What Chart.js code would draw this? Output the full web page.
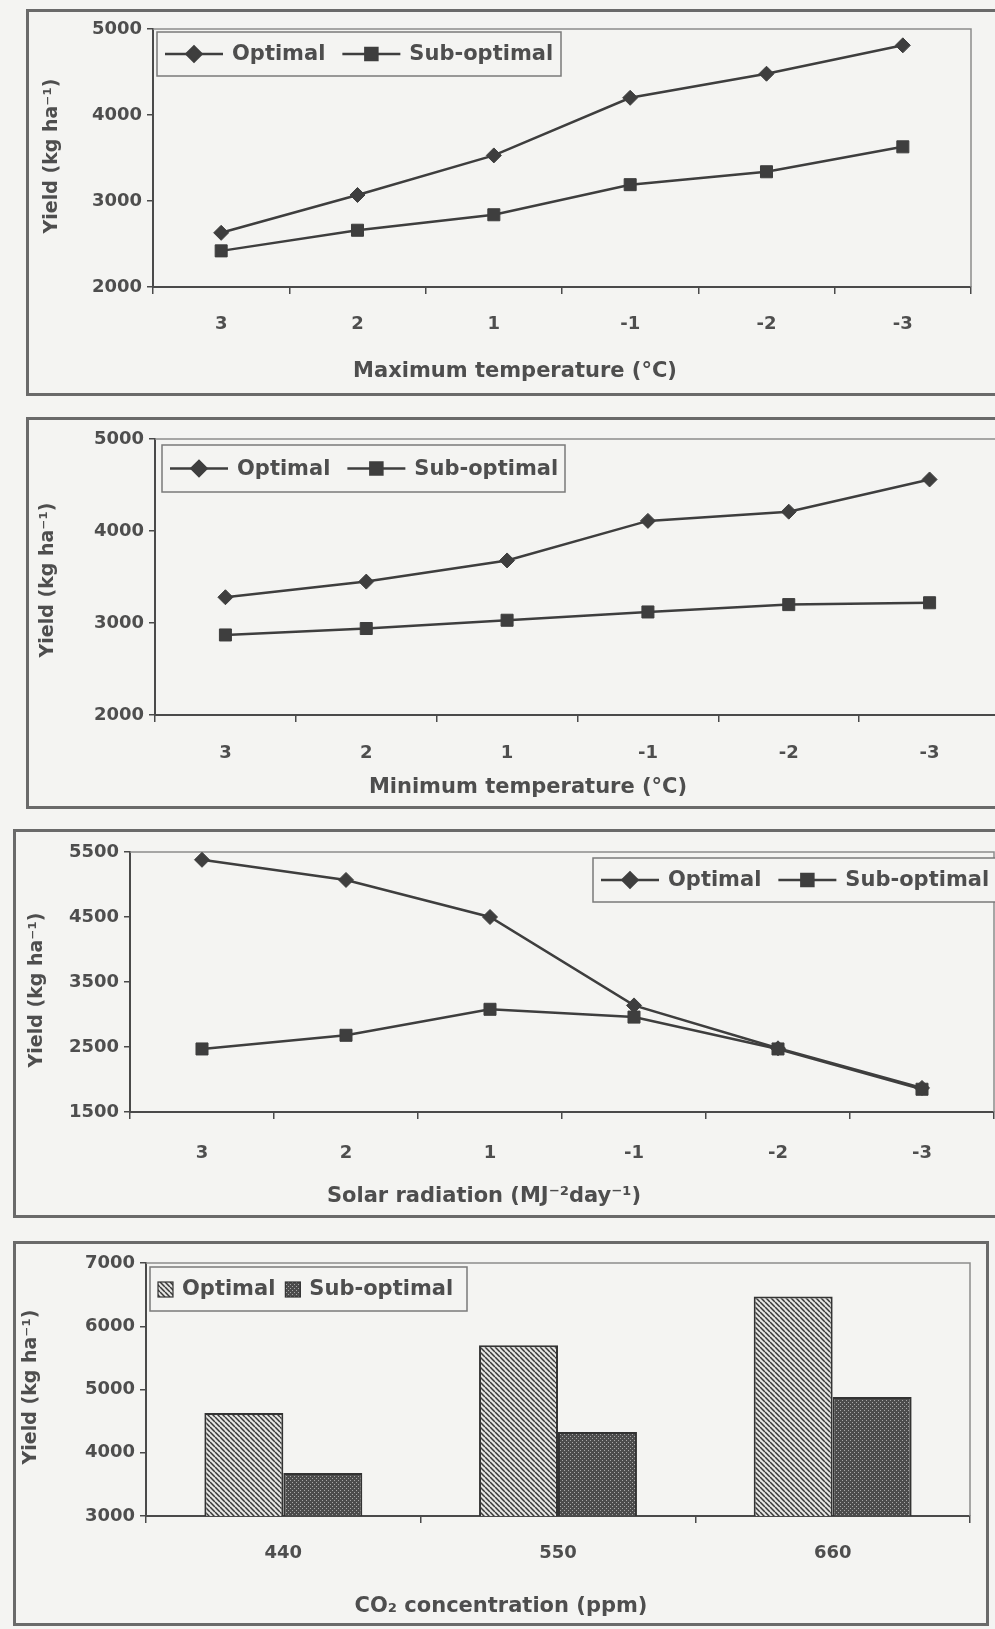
<!DOCTYPE html>
<html>
<head>
<meta charset="utf-8">
<script src="https://cdn.jsdelivr.net/npm/chart.js@4.4.1/dist/chart.umd.min.js"></script>
<style>
  html, body { margin: 0; padding: 0; }
  body { width: 995px; height: 1629px; overflow: hidden; position: relative; background: #f4f4f2; }
  .frame { position: absolute; border: 3px solid #6a6a6a; box-sizing: border-box; }
  canvas { position: absolute; left: 0; }
</style>
</head>
<body>
<div class="frame" style="left:26px;top:9px;width:1000px;height:387px"></div>
<div class="frame" style="left:26px;top:417px;width:1000px;height:392px"></div>
<div class="frame" style="left:13px;top:829px;width:1000px;height:389px"></div>
<div class="frame" style="left:13px;top:1241px;width:976px;height:385px"></div>

<canvas id="c1" width="1010" height="388" style="top:8px"></canvas>
<canvas id="c2" width="1010" height="392" style="top:418px"></canvas>
<canvas id="c3" width="1010" height="390" style="top:830px"></canvas>
<canvas id="c4" width="1010" height="387" style="top:1242px"></canvas>

<script>
// data
const tempLabels = ['3', '2', '1', '-1', '-2', '-3']
const maxTempOptimal = [2630, 3070, 3530, 4200, 4480, 4810]
const maxTempSubOptimal = [2420, 2660, 2840, 3190, 3340, 3630]
const minTempOptimal = [3280, 3450, 3680, 4110, 4210, 4560]
const minTempSubOptimal = [2870, 2940, 3030, 3120, 3200, 3220]
const solarOptimal = [5380, 5070, 4500, 3140, 2480, 1870]
const solarSubOptimal = [2470, 2680, 3080, 2960, 2470, 1850]
const co2Labels = ['440', '550', '660']
const co2Optimal = [4630, 5700, 6470]
const co2SubOptimal = [3680, 4330, 4880]

const maxTempTicks = [2000, 3000, 4000, 5000]
const minTempTicks = [2000, 3000, 4000, 5000]
const solarTicks = [1500, 2500, 3500, 4500, 5500]
const co2Ticks = [3000, 4000, 5000, 6000, 7000]

const textColor = '#4e4e4e'
const axisColor = '#4a4a4a'
const lineColor = '#3e3e3e'
const fontFamily = '"DejaVu Sans", sans-serif'


function makeHatch(ctx) {
    let c = document.createElement('canvas')
    c.width = 5; c.height = 5
    let g = c.getContext('2d')
    g.fillStyle = '#e4e4e2'
    g.fillRect(0, 0, 5, 5)
    g.strokeStyle = '#383838'
    g.lineWidth = 1.5
    g.beginPath()
    for (let o of [-5, 0, 5]) { g.moveTo(o, 0); g.lineTo(o + 5, 5) }
    g.stroke()
    return ctx.createPattern(c, 'repeat')
}

function makeDots(ctx) {
    let c = document.createElement('canvas')
    c.width = 4; c.height = 4
    let g = c.getContext('2d')
    g.fillStyle = '#4c4c4c'
    g.fillRect(0, 0, 4, 4)
    g.fillStyle = '#a8a8a8'
    g.fillRect(0, 0, 1, 1)
    g.fillRect(2, 2, 1, 1)
    return ctx.createPattern(c, 'repeat')
}


// plot frame, axis titles and boxed legend (Excel look)
const decor = {
    id: 'decor',
    beforeDatasetsDraw(chart, args, opts) {
        let { ctx, chartArea: a } = chart
        ctx.save()
        ctx.strokeStyle = '#8c8c8c'
        ctx.lineWidth = 1.5
        ctx.beginPath()
        ctx.moveTo(a.left, a.top)
        ctx.lineTo(a.right, a.top)
        ctx.lineTo(a.right, a.bottom)
        ctx.stroke()
        ctx.restore()
    },
    afterDraw(chart, args, opts) {
        let ctx = chart.ctx
        let t = opts.top
        ctx.save()
        ctx.fillStyle = textColor
        ctx.textAlign = 'center'
        ctx.textBaseline = 'middle'

        // x title
        ctx.font = 'bold 21px ' + fontFamily
        ctx.fillText(opts.xTitle, opts.xTitleAt[0], opts.xTitleAt[1] - t)

        // y title
        ctx.save()
        ctx.translate(opts.yTitleAt[0], opts.yTitleAt[1] - t)
        ctx.rotate(-Math.PI / 2)
        ctx.font = 'bold 19px ' + fontFamily
        ctx.fillText(opts.yTitle, 0, 0)
        ctx.restore()

        // legend
        let L = opts.legend
        let ly = L.y - t
        ctx.fillStyle = '#f4f4f2'
        ctx.fillRect(L.x, ly, L.w, L.h)
        ctx.strokeStyle = '#7a7a7a'
        ctx.lineWidth = 1.5
        ctx.strokeRect(L.x, ly, L.w, L.h)
        let cy = ly + L.h / 2
        let x = L.x + 8
        ctx.font = 'bold 21px ' + fontFamily
        ctx.textAlign = 'left'
        chart.data.datasets.forEach(ds => {
            if (chart.config.type === 'line') {
                ctx.strokeStyle = lineColor
                ctx.lineWidth = 2.5
                ctx.beginPath()
                ctx.moveTo(x, cy)
                ctx.lineTo(x + 58, cy)
                ctx.stroke()
                ctx.fillStyle = lineColor
                ctx.strokeStyle = lineColor
                Chart.helpers.drawPoint(ctx, { pointStyle: ds.pointStyle, radius: ds.pointRadius, rotation: 0, borderWidth: 1 }, x + 29, cy)
                x += 58 + 9
            } else {
                ctx.fillStyle = ds.backgroundColor
                ctx.fillRect(x, cy - 7, 15, 15)
                ctx.strokeStyle = '#333'
                ctx.lineWidth = 1.2
                ctx.strokeRect(x, cy - 7, 15, 15)
                x += 15 + 9
            }
            ctx.fillStyle = textColor
            ctx.fillText(ds.label, x, cy + 1)
            x += ctx.measureText(ds.label).width + (chart.config.type === 'line' ? 17 : 10)
        })
        ctx.restore()
    }
}


function makeChart(p) {
    let canvas = document.getElementById(p.id)
    let top = parseInt(canvas.style.top)
    let W = canvas.width, H = canvas.height
    let a = p.area   // left, top, right, bottom in page pixels

    return new Chart(canvas, {
        type: p.type,
        data: { labels: p.labels, datasets: p.datasets },
        options: {
            responsive: false,
            animation: false,
            layout: { padding: { left: 0, top: a[1] - top, right: W - a[2], bottom: 0 } },
            plugins: {
                legend: { display: false },
                tooltip: { enabled: false },
                decor: {
                    top: top,
                    xTitle: p.xTitle, xTitleAt: p.xTitleAt,
                    yTitle: 'Yield (kg ha\u207B\u00B9)', yTitleAt: p.yTitleAt,
                    legend: p.legend
                }
            },
            scales: {
                x: {
                    offset: true,
                    grid: { offset: true, drawOnChartArea: false, tickLength: 7, color: axisColor, lineWidth: 1.5 },
                    border: { color: axisColor, width: 2 },
                    ticks: { color: textColor, font: { family: fontFamily, weight: 'bold', size: 18 }, padding: p.xPad, maxRotation: 0 },
                    afterFit: s => { s.height = top + H - a[3] }
                },
                y: {
                    min: p.ticks[0],
                    max: p.ticks[p.ticks.length - 1],
                    afterBuildTicks: s => { s.ticks = p.ticks.map(v => ({ value: v })) },
                    grid: { drawOnChartArea: false, tickLength: 6, color: axisColor, lineWidth: 1.5 },
                    border: { color: axisColor, width: 2 },
                    ticks: {
                        color: textColor,
                        font: { family: fontFamily, weight: 'bold', size: 18 },
                        padding: 5,
                        callback: v => String(v)
                    },
                    afterFit: s => { s.width = a[0] }
                }
            }
        },
        plugins: [decor]
    })
}


function lineSets(optimal, subOptimal) {
    return [{
        label: 'Optimal',
        data: optimal,
        borderColor: lineColor,
        borderWidth: 2.5,
        pointStyle: 'rectRot',
        pointRadius: 7.5,
        pointBackgroundColor: lineColor,
        pointBorderColor: lineColor,
        pointBorderWidth: 1
    },
    {
        label: 'Sub-optimal',
        data: subOptimal,
        borderColor: lineColor,
        borderWidth: 2.5,
        pointStyle: 'rect',
        pointRadius: 8.5,
        pointBackgroundColor: lineColor,
        pointBorderColor: lineColor,
        pointBorderWidth: 1
    }]
}


makeChart({
    id: 'c1', type: 'line', labels: tempLabels,
    datasets: lineSets(maxTempOptimal, maxTempSubOptimal),
    ticks: maxTempTicks,
    area: [153, 29, 971, 287], xPad: 20,
    xTitle: 'Maximum temperature (°C)', xTitleAt: [515, 372], yTitleAt: [52, 156],
    legend: { x: 157, y: 32, w: 404, h: 44 }
})

makeChart({
    id: 'c2', type: 'line', labels: tempLabels,
    datasets: lineSets(minTempOptimal, minTempSubOptimal),
    ticks: minTempTicks,
    area: [155, 439, 1000, 715], xPad: 21,
    xTitle: 'Minimum temperature (°C)', xTitleAt: [528, 788], yTitleAt: [48, 580],
    legend: { x: 162, y: 445, w: 403, h: 47 }
})

makeChart({
    id: 'c3', type: 'line', labels: tempLabels,
    datasets: lineSets(solarOptimal, solarSubOptimal),
    ticks: solarTicks,
    area: [130, 852, 994, 1112], xPad: 24,
    xTitle: 'Solar radiation (MJ\u207B\u00B2day\u207B\u00B9)', xTitleAt: [484, 1197], yTitleAt: [37, 990],
    legend: { x: 593, y: 858, w: 404, h: 44 }
})

let ctx4 = document.getElementById('c4').getContext('2d')
makeChart({
    id: 'c4', type: 'bar', labels: co2Labels,
    datasets: [{
        label: 'Optimal',
        data: co2Optimal,
        backgroundColor: makeHatch(ctx4),
        borderColor: '#333',
        borderWidth: 2,
        categoryPercentage: 0.575,
        barPercentage: 1
    },
    {
        label: 'Sub-optimal',
        data: co2SubOptimal,
        backgroundColor: makeDots(ctx4),
        borderColor: '#333',
        borderWidth: 2,
        categoryPercentage: 0.575,
        barPercentage: 1
    }],
    ticks: co2Ticks,
    area: [146, 1263, 970, 1516], xPad: 20,
    xTitle: 'CO\u2082 concentration (ppm)', xTitleAt: [501, 1607], yTitleAt: [31, 1387],
    legend: { x: 150, y: 1267, w: 317, h: 44 }
})
</script>
</body>
</html>
